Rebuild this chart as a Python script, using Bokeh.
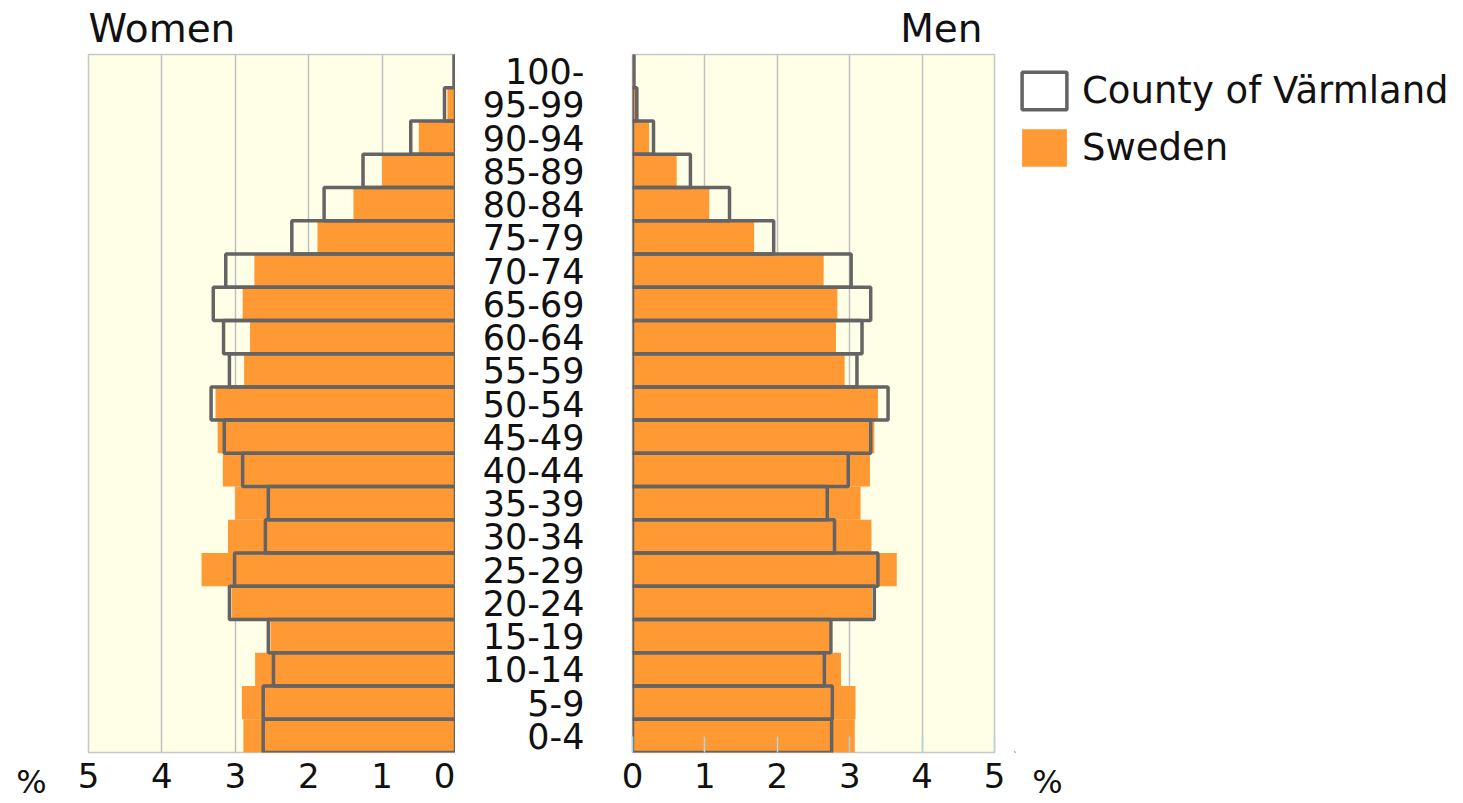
from bokeh.plotting import figure
from bokeh.layouts import row
from bokeh.models import Range1d, FixedTicker, Legend, LegendItem
from bokeh.embed import file_html
from bokeh.resources import INLINE

ages = ["0-4", "5-9", "10-14", "15-19", "20-24", "25-29", "30-34", "35-39",
        "40-44", "45-49", "50-54", "55-59", "60-64", "65-69", "70-74",
        "75-79", "80-84", "85-89", "90-94", "95-99", "100-"]
women_sweden = [2.89, 2.91, 2.73, 2.52, 3.05, 3.46, 3.10, 3.00, 3.17, 3.24, 3.27,
                2.88, 2.80, 2.90, 2.74, 1.88, 1.39, 1.00, 0.50, 0.11, 0.02]
women_varmland = [2.62, 2.62, 2.48, 2.55, 3.08, 3.01, 2.59, 2.55, 2.90, 3.15, 3.33,
                  3.08, 3.16, 3.30, 3.13, 2.23, 1.79, 1.26, 0.61, 0.15, 0.02]
men_sweden = [3.07, 3.08, 2.88, 2.72, 3.31, 3.65, 3.30, 3.15, 3.28, 3.34, 3.39,
              2.93, 2.81, 2.83, 2.64, 1.68, 1.06, 0.61, 0.23, 0.05, 0.01]
men_varmland = [2.75, 2.76, 2.65, 2.74, 3.34, 3.39, 2.79, 2.69, 2.98, 3.29, 3.53,
                3.10, 3.17, 3.29, 3.02, 1.95, 1.34, 0.80, 0.29, 0.06, 0.02]
ticks = [0, 1, 2, 3, 4, 5]
grid_ticks = [1, 2, 3, 4]
unit_label = "%"
series_names = ["County of Värmland", "Sweden"]

FONT = "DejaVu Sans"
ORANGE = "#ff9933"
GRAY = "#646464"
BG = "#fffee6"
TXT = "#111111"
H = 803
TOP = 54
BOTTOM = 50
ypos = list(range(len(ages)))


def style_xaxis(p):
    p.xaxis.axis_line_color = None
    p.xaxis.major_tick_out = 0
    p.xaxis.minor_tick_line_color = None
    p.xaxis.major_label_text_font = FONT
    p.xaxis.major_label_text_font_size = "34px"
    p.xaxis.major_label_text_color = TXT
    p.xaxis.major_label_standoff = 10


def style(p):
    p.background_fill_color = BG
    p.border_fill_color = "white"
    p.outline_line_color = "#c8c8c8"
    p.outline_line_width = 1.5
    p.xaxis.ticker = FixedTicker(ticks=ticks)
    style_xaxis(p)
    p.xgrid.ticker = FixedTicker(ticks=grid_ticks)
    p.xgrid.grid_line_color = "#c0c0c0"
    p.xgrid.grid_line_width = 1.5
    p.ygrid.visible = False
    p.title.text_font = FONT
    p.title.text_font_size = "39px"
    p.title.text_font_style = "normal"
    p.title.text_color = TXT
    p.title.standoff = 7


def side(width, unit_x):
    # blank side figure whose only axis tick shows the unit label
    b = figure(width=width, height=H, x_range=Range1d(0, width), y_range=Range1d(0, 1),
               output_backend="svg", toolbar_location=None, y_axis_location=None,
               min_border_left=0, min_border_right=0,
               min_border_top=TOP, min_border_bottom=BOTTOM)
    b.outline_line_color = None
    b.background_fill_color = "white"
    b.border_fill_color = "white"
    b.xgrid.visible = False
    b.ygrid.visible = False
    b.xaxis.ticker = FixedTicker(ticks=[unit_x])
    b.xaxis.major_label_overrides = {unit_x: unit_label}
    b.xaxis.major_tick_line_color = None
    style_xaxis(b)
    b.xaxis.major_label_text_font_size = "32px"
    return b


p0 = side(58, 31)

# Women
p1 = figure(width=397, height=H, x_range=Range1d(5, 0), y_range=Range1d(-0.5, 20.5),
            output_backend="svg", toolbar_location=None, y_axis_location=None,
            min_border_left=30, min_border_right=0, min_border_top=TOP, min_border_bottom=BOTTOM,
            title="Women")
style(p1)
p1.xaxis.major_tick_line_color = None
p1.hbar(y=ypos, left=0, right=women_sweden, height=1.0, fill_color=ORANGE, line_color=None)
p1.hbar(y=ypos, left=0, right=women_varmland, height=1.0, fill_color=None,
        line_color=GRAY, line_width=3.5)

# Men
p2 = figure(width=559, height=H, x_range=Range1d(0, 5), y_range=Range1d(-0.5, 20.5),
            output_backend="svg", toolbar_location=None,
            min_border_left=177, min_border_right=20, min_border_top=TOP, min_border_bottom=BOTTOM,
            title="Men")
style(p2)
p2.title.align = "right"
p2.title.offset = 12
p2.xaxis.major_tick_in = 16
p2.xaxis.major_tick_line_color = "#a8d8dc"
p2.xaxis.major_tick_line_width = 1.5
p2.yaxis.ticker = FixedTicker(ticks=ypos)
p2.yaxis.major_label_overrides = {i: a for i, a in zip(ypos, ages)}
p2.yaxis.axis_line_color = None
p2.yaxis.major_tick_line_color = None
p2.yaxis.minor_tick_line_color = None
p2.yaxis.major_tick_out = 0
p2.yaxis.major_tick_in = 0
p2.yaxis.major_label_standoff = 48
p2.yaxis.major_label_text_font = FONT
p2.yaxis.major_label_text_font_size = "35px"
p2.yaxis.major_label_text_color = TXT
p2.hbar(y=ypos, left=0, right=men_sweden, height=1.0, fill_color=ORANGE, line_color=None)
p2.hbar(y=ypos, left=0, right=men_varmland, height=1.0, fill_color=None,
        line_color=GRAY, line_width=3.5)

# right side: unit label and legend (legend proxies lie outside the visible range)
p3 = side(445, 33)
lg_va = p3.hbar(y=[-50], left=[-100], right=[-90], height=1.0, fill_color=None,
                line_color=GRAY, line_width=3.5)
lg_sw = p3.hbar(y=[-50], left=[-100], right=[-90], height=1.0, fill_color=ORANGE, line_color=None)
legend = Legend(items=[LegendItem(label=series_names[0], renderers=[lg_va]),
                       LegendItem(label=series_names[1], renderers=[lg_sw])],
                location=(2, 581), margin=0, padding=0, spacing=10,
                glyph_width=56, glyph_height=47, label_standoff=10, label_height=47,
                label_text_font=FONT, label_text_font_size="37px", label_text_color=TXT,
                border_line_color=None, background_fill_alpha=0)
p3.add_layout(legend)

layout = row(p0, p1, p2, p3)
open("out.html", "w").write(file_html(layout, INLINE))
